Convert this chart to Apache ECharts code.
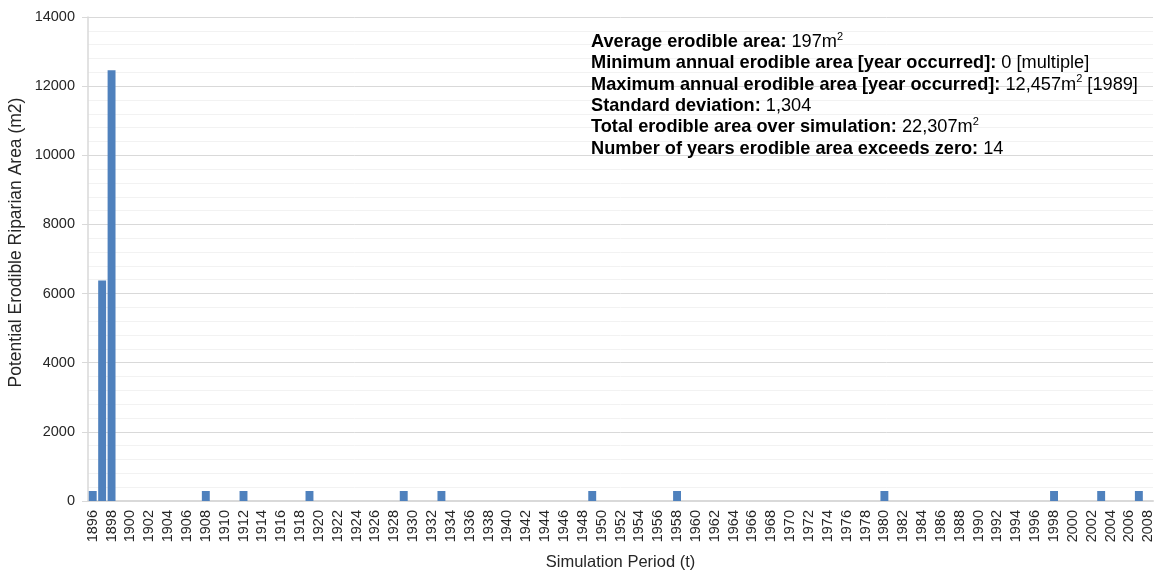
<!DOCTYPE html>
<html><head><meta charset="utf-8">
<script src="https://cdn.jsdelivr.net/npm/echarts@6/dist/echarts.min.js"></script>
<style>html,body{margin:0;padding:0;background:#fff}#c{width:1157px;height:571px}</style>
</head><body><div id="c"></div>
<script>
const years = [
 '1896','1897','1898','1899','1900','1901','1902','1903','1904','1905',
 '1906','1907','1908','1909','1910','1911','1912','1913','1914','1915',
 '1916','1917','1918','1919','1920','1921','1922','1923','1924','1925',
 '1926','1927','1928','1929','1930','1931','1932','1933','1934','1935',
 '1936','1937','1938','1939','1940','1941','1942','1943','1944','1945',
 '1946','1947','1948','1949','1950','1951','1952','1953','1954','1955',
 '1956','1957','1958','1959','1960','1961','1962','1963','1964','1965',
 '1966','1967','1968','1969','1970','1971','1972','1973','1974','1975',
 '1976','1977','1978','1979','1980','1981','1982','1983','1984','1985',
 '1986','1987','1988','1989','1990','1991','1992','1993','1994','1995',
 '1996','1997','1998','1999','2000','2001','2002','2003','2004','2005',
 '2006','2007','2008'];
const erodibleArea = [
 290,6376,12457,0,0,0,0,0,0,0,
 0,0,290,0,0,0,290,0,0,0,
 0,0,0,290,0,0,0,0,0,0,
 0,0,0,290,0,0,0,290,0,0,
 0,0,0,0,0,0,0,0,0,0,
 0,0,0,290,0,0,0,0,0,0,
 0,0,290,0,0,0,0,0,0,0,
 0,0,0,0,0,0,0,0,0,0,
 0,0,0,0,290,0,0,0,0,0,
 0,0,0,0,0,0,0,0,0,0,
 0,0,290,0,0,0,0,290,0,0,
 0,290,0];
const yTicks = [0,2000,4000,6000,8000,10000,12000,14000];
const xTitle = 'Simulation Period (t)';
const yTitle = 'Potential Erodible Riparian Area (m2)';

const F = '"Liberation Sans", Arial, sans-serif';
const chart = echarts.init(document.getElementById('c'), null, {renderer:'canvas'});
const LH = 21.4;
const rich = {
  b:{fontFamily:F,fontSize:18.2,fontWeight:'bold',color:'#000',lineHeight:LH},
  n:{fontFamily:F,fontSize:18.2,color:'#000',lineHeight:LH},
  s:{fontFamily:F,fontSize:11,color:'#000',lineHeight:LH,verticalAlign:'top',padding:[0,0,7,0]}
};
chart.setOption({
  animation:false,
  grid:{left:88,right:4,top:17,bottom:70,containLabel:false,outerBoundsMode:'none'},
  xAxis:{type:'category',data:years,name:xTitle,nameLocation:'middle',nameGap:53,nameMoveOverlap:false,
    nameTextStyle:{fontFamily:F,fontSize:16.5,color:'#262626'},
    axisLine:{lineStyle:{color:'#d9d9d9',width:2}},axisTick:{show:false},
    axisLabel:{interval:1,rotate:90,fontFamily:F,fontSize:14.5,color:'#262626',margin:9}},
  yAxis:{type:'value',min:yTicks[0],max:yTicks[yTicks.length-1],interval:2000,
    name:yTitle,nameLocation:'middle',nameGap:63,nameMoveOverlap:false,
    nameTextStyle:{fontFamily:F,fontSize:17.5,color:'#262626',padding:[0,0,0,33]},
    axisLine:{show:true,lineStyle:{color:'#d9d9d9',width:1.5}},
    axisTick:{show:true,length:6,lineStyle:{color:'#d9d9d9'}},
    axisLabel:{fontFamily:F,fontSize:14.5,color:'#262626',margin:13,formatter:v=>String(v)},
    splitLine:{lineStyle:{color:'#d9d9d9'}},
    minorTick:{show:false,splitNumber:5},
    minorSplitLine:{show:true,lineStyle:{color:'#f2f2f2'}}},
  series:[{type:'bar',data:erodibleArea,barCategoryGap:'16%',itemStyle:{color:'#4F81BD'}}],
  graphic:[{type:'text',left:591,top:31,z:100,style:{
    text:[
      '{b|Average erodible area: }{n|197m}{s|2}',
      '{b|Minimum annual erodible area [year occurred]:}{n| 0 [multiple]}',
      '{b|Maximum annual erodible area [year occurred]:}{n| 12,457m}{s|2}{n| [1989]}',
      '{b|Standard deviation:}{n| 1,304}',
      '{b|Total erodible area over simulation:}{n| 22,307m}{s|2}',
      '{b|Number of years erodible area exceeds zero:}{n| 14}'
    ].join('\n'),
    rich:rich}}]
});
</script></body></html>
